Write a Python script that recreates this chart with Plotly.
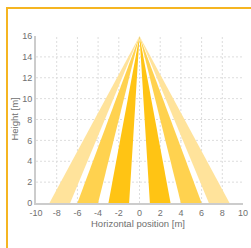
import plotly.graph_objects as go

apex_height = 16
zone_names = ["Near zone", "Middle zone", "Far zone"]
zone_inner = [1.0, 4.0, 6.7]
zone_outer = [3.0, 6.0, 8.7]
zone_colors = ["#FFC414", "#FFD24F", "#FFE39B"]

x_ticks = [-10, -8, -6, -4, -2, 0, 2, 4, 6, 8, 10]
y_ticks = [0, 2, 4, 6, 8, 10, 12, 14, 16]

fig = go.Figure()
for name, a, b, c in zip(zone_names, zone_inner, zone_outer, zone_colors):
    for s in (-1, 1):
        fig.add_trace(go.Scatter(
            x=[0, s * a, s * b, 0], y=[apex_height, 0, 0, apex_height],
            fill="toself", fillcolor=c, mode="lines", line=dict(width=0),
            name=name, showlegend=False, hoverinfo="skip"))

fig.update_layout(
    width=251, height=248,
    margin=dict(l=36, r=8, t=36, b=45),
    paper_bgcolor="white", plot_bgcolor="white",
    font=dict(family="Liberation Sans, Arial, sans-serif", size=9, color="#707070"),
    showlegend=False,
)
axis_common = dict(showgrid=False, showline=True, linecolor="#CCCCCC", linewidth=2,
                   zeroline=False, ticks="", ticklen=0, automargin=False)
fig.update_xaxes(range=[-10, 10], tickvals=x_ticks,
                 ticktext=[str(v) for v in x_ticks], **axis_common)
fig.update_yaxes(range=[0, 16], tickvals=y_ticks,
                 ticktext=[str(v) for v in y_ticks], **axis_common)

# dashed grid (interior ticks only)
grid = dict(color="#DDDDDD", width=1, dash="2px,2px")
for v in x_ticks[1:-1]:
    fig.add_shape(type="line", xref="x", yref="y", x0=v, x1=v, y0=y_ticks[0], y1=y_ticks[-1],
                  line=grid, layer="below")
for v in y_ticks[1:-1]:
    fig.add_shape(type="line", xref="x", yref="y", x0=x_ticks[0], x1=x_ticks[-1], y0=v, y1=v,
                  line=grid, layer="below")

# axis titles
fig.add_annotation(text="Horizontal position [m]", xref="paper", yref="paper",
                   x=0.493, y=-0.12, xanchor="center", yanchor="middle", showarrow=False,
                   font=dict(size=9.5, color="#707070"))
fig.add_annotation(text="Height [m]", xref="paper", yref="paper", textangle=-90,
                   x=-0.106, y=0.5, xanchor="center", yanchor="middle", showarrow=False,
                   font=dict(size=9.5, color="#707070"))

# orange frame (left and top edges visible)
fig.add_shape(type="rect", xref="paper", yref="paper",
              x0=(7 - 36) / 207, x1=2.0, y0=-2.0, y1=(203 - 8) / 167,
              line=dict(color="#F5B521", width=2), fillcolor="rgba(0,0,0,0)", layer="above")

fig.write_html("out.html", config={"displayModeBar": False},
               post_script="document.body.style.margin='0';")
